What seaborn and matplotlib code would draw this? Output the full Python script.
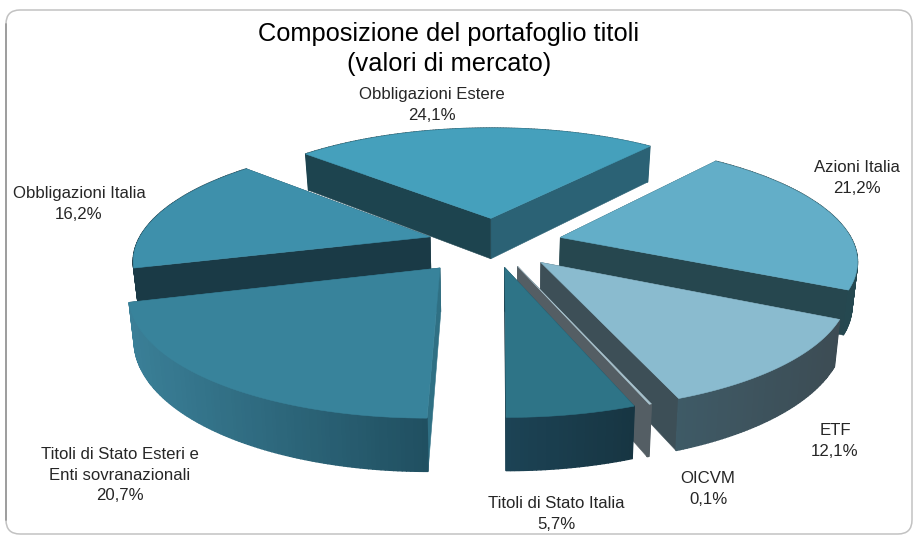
import matplotlib.pyplot as plt
plt.switch_backend('Agg')
from matplotlib.patches import FancyBboxPatch
import seaborn as sns
import numpy as np

# values, clockwise starting from Azioni Italia
labels = ['Azioni Italia', 'ETF', 'OICVM', 'Titoli di Stato Italia',
          'Titoli di Stato Esteri e\nEnti sovranazionali', 'Obbligazioni Italia', 'Obbligazioni Estere']
values = [21.2, 12.1, 0.1, 5.7, 20.7, 16.2, 24.1]
value_text = ['21,2%', '12,1%', '0,1%', '5,7%', '20,7%', '16,2%', '24,1%']
title = 'Composizione del portafoglio titoli\n(valori di mercato)'

# styles
top_colors = ['#63aec8', '#8abbcf', '#a9c4cf', '#2e7487', '#38839b', '#3e90ab', '#45a0bc']
wall_start = ['#26474f', '#3d4f57', '#545e64', '#1c4355', '#2f7084', '#1a3a46', '#1d444f']
wall_end = ['#26474f', '#3d4f57', '#545e64', '#173542', '#204f60', '#1a3a46', '#2b6275']
rim_left = ['#26474f', '#3e5a66', '#545e64', '#1c4355', '#3a7f97', '#1a3a46', '#1d444f']
rim_right = ['#254850', '#3d4c54', '#545e64', '#173542', '#204f60', '#1a3a46', '#2b6275']
label_pos = [(857, 178), (835, 441), (708, 489), (556, 514), (120, 475), (79, 204), (432, 105)]
draw_order = [6, 5, 0, 1, 4, 2, 3]
explode = [0.23, 0.225, 0.21, 0.21, 0.265, 0.23, 0.225]
nudge_x = [0, 0, 0, -0.005, -0.02, 0, 0]

# perspective set up
cx, cy = 495, 243
sx, sy = 293, 114
persp = 0.175
depth = 42
start_angle = 39.5

sns.set_theme(style='white')
plt.rcParams['font.family'] = ['Liberation Sans', 'DejaVu Sans']


def project(x, y, low=False):
    s = 1 / (1 + persp * y)
    q = 0.985 if low else 1.0
    px = cx + sx * x * s * q
    py = cy - sy * y * s
    if low:
        py = py + depth * s
    return px, py


def pts(theta, r, ox, oy, low=False):
    x = r * np.sin(theta) + ox
    y = r * np.cos(theta) + oy
    return project(x, y, low)


def draw_slice(ax, t0, t1, i):
    mid = (t0 + t1) / 2
    ox, oy = explode[i] * np.sin(mid) + nudge_x[i], explode[i] * np.cos(mid)
    faces = []
    # two radial walls
    for t, col in [(t0, wall_start[i]), (t1, wall_end[i])]:
        a = pts(t, 0, ox, oy)
        b = pts(t, 1, ox, oy)
        c = pts(t, 1, ox, oy, True)
        d = pts(t, 0, ox, oy, True)
        key = 0.5 * np.cos(t) + oy
        faces.append((key, [a[0], b[0], c[0], d[0]], [a[1], b[1], c[1], d[1]], col, 0.4))
    # rim facets, colour follows the screen x
    n = max(int(np.degrees(t1 - t0) * 1.5), 2)
    tt = np.linspace(t0, t1, n + 1)
    xs = [pts(t, 1, ox, oy)[0] for t in tt]
    pal = sns.blend_palette([rim_left[i], rim_right[i]], 60)
    for j in range(n):
        a = pts(tt[j], 1, ox, oy)
        b = pts(tt[j + 1], 1, ox, oy)
        c = pts(tt[j + 1], 1, ox, oy, True)
        d = pts(tt[j], 1, ox, oy, True)
        f = (0.5 * (a[0] + b[0]) - min(xs)) / max(max(xs) - min(xs), 1e-6)
        key = np.cos(0.5 * (tt[j] + tt[j + 1])) + oy
        faces.append((key, [a[0], b[0], c[0], d[0]], [a[1], b[1], c[1], d[1]], pal[int(f * 59)], 1.0))
    faces.sort(key=lambda v: -v[0])
    for _, fx, fy, col, w in faces:
        ax.fill(fx, fy, color=col, lw=w, zorder=2)
    # top face
    top_t = np.linspace(t0, t1, n * 2 + 1)
    p = [pts(t, 1, ox, oy) for t in top_t]
    a = pts(t0, 0, ox, oy)
    ax.fill([a[0]] + [v[0] for v in p], [a[1]] + [v[1] for v in p], color=top_colors[i], lw=0.4, zorder=2)


fig = plt.figure(figsize=(9.13, 5.35), dpi=100)
ax = fig.add_axes([0, 0, 1, 1])
ax.set_xlim(0, 913)
ax.set_ylim(535, 0)
ax.axis('off')

frame = FancyBboxPatch((20, 24), 878, 496, boxstyle='round,pad=14,rounding_size=14',
                       fc='white', ec='#c2c2c2', lw=1.1, zorder=0)
ax.add_patch(frame)
ax.plot([6.3, 6.3], [24, 520], color='#9a9a9a', lw=1.3, zorder=1)

edges = np.radians(start_angle + np.concatenate(([0], np.cumsum(values))) * 360 / sum(values))
for i in draw_order:
    draw_slice(ax, edges[i], edges[i + 1], i)

for i, lab in enumerate(labels):
    ax.text(label_pos[i][0], label_pos[i][1], lab + '\n' + value_text[i], ha='center', va='center',
            fontsize=12.1, color='#262626', linespacing=1.45, zorder=3)
ax.text(449, 49, title, ha='center', va='center', fontsize=18.3, color='black', linespacing=1.27, zorder=3)

fig.savefig('out.png', dpi=100)
